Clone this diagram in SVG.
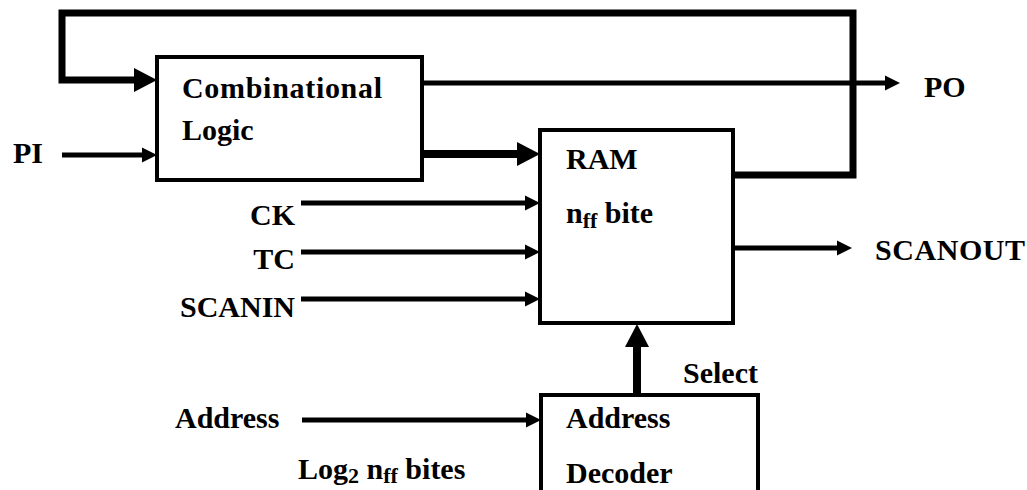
<svg xmlns="http://www.w3.org/2000/svg" width="1027" height="490" viewBox="0 0 1027 490">
<style>
.box{fill:none;stroke:#000;stroke-width:4;stroke-linecap:square}
.w{fill:none;stroke:#000;stroke-width:5}
.t{fill:none;stroke:#000;stroke-width:7;stroke-linejoin:miter}
.b{fill:none;stroke:#000;stroke-width:8}
text{font-family:"Liberation Serif","Times New Roman",serif;font-weight:bold;font-size:30px;fill:#000}
.sub{font-size:22px}
</style>
<defs>
<marker id="a" markerUnits="userSpaceOnUse" viewBox="0 -8 16 16" markerWidth="16" markerHeight="16" refX="0" refY="0" orient="auto"><path d="M0,-7.5 L15,0 L0,7.5 Z" fill="#000"/></marker>
<marker id="A" markerUnits="userSpaceOnUse" viewBox="0 -13 24 26" markerWidth="24" markerHeight="26" refX="0" refY="0" orient="auto"><path d="M0,-12 L23,0 L0,12 Z" fill="#000"/></marker>
</defs>
<rect width="1027" height="490" fill="#fff"/>
<g id="connectors">
<path class="t" d="M733 175 H853 V13 H62 V80 H134" marker-end="url(#A)"/>
<path class="w" d="M422 83 H885" marker-end="url(#a)"/>
<path class="b" d="M422 154 H517" marker-end="url(#A)"/>
<path class="w" d="M62 155 H142" marker-end="url(#a)"/>
<path class="w" d="M301 203 H525" marker-end="url(#a)"/>
<path class="w" d="M301 252 H525" marker-end="url(#a)"/>
<path class="w" d="M301 299 H525" marker-end="url(#a)"/>
<path class="w" d="M733 248 H837" marker-end="url(#a)"/>
<path class="w" d="M302 420 H526" marker-end="url(#a)"/>
<path class="b" d="M637 395 V347" marker-end="url(#A)"/>
</g>
<g id="comb">
<path class="box" d="M157 57 H422 M422 57 V180 M422 180 H157 M157 180 V57"/>
<text x="182" y="98" textLength="200">Combinational</text>
<text x="182" y="140">Logic</text>
</g>
<g id="ram">
<path class="box" d="M540 130 H733 M733 130 V323 M733 323 H540 M540 323 V130"/>
<text x="566" y="169">RAM</text>
<text x="566" y="223">n<tspan class="sub" dy="5">ff</tspan><tspan dy="-5"> bite</tspan></text>
</g>
<g id="decoder">
<path class="box" d="M541 395 H758 M758 395 V500 M541 500 V395"/>
<text x="566" y="428">Address</text>
<text x="566" y="483">Decoder</text>
</g>
<g id="labels">
<text x="13" y="163">PI</text>
<text x="924" y="97">PO</text>
<text x="295" y="225" text-anchor="end">CK</text>
<text x="295" y="269" text-anchor="end">TC</text>
<text x="295" y="317" text-anchor="end">SCANIN</text>
<text x="875" y="260" textLength="150">SCANOUT</text>
<text x="758" y="383" text-anchor="end">Select</text>
<text x="175" y="428">Address</text>
<text x="298" y="479">Log<tspan class="sub" dy="4">2</tspan><tspan dy="-4"> n</tspan><tspan class="sub" dy="4">ff</tspan><tspan dy="-4"> bites</tspan></text>
</g>
</svg>
